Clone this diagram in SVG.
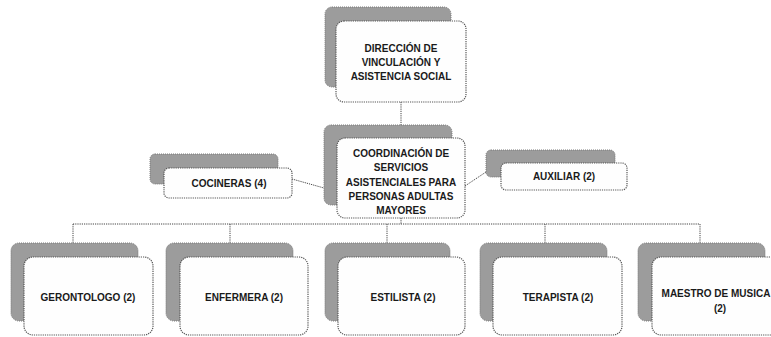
<svg xmlns="http://www.w3.org/2000/svg" width="771" height="337" viewBox="0 0 771 337">
<defs>
<style>
.sh{fill:#9c9c9c;stroke:#7a7a7a;stroke-width:1;stroke-dasharray:1 1}
.fr{fill:#fefefe;stroke:#555;stroke-width:1.2;stroke-dasharray:1.2 1}
.t{font-family:"Liberation Sans",Arial,sans-serif;font-weight:bold;font-size:10px;fill:#1a1a1a;text-anchor:middle}
.c{fill:none;stroke:#444;stroke-width:1;stroke-dasharray:1.2 1}
</style>
</defs>
<rect width="771" height="337" fill="#ffffff"/>
<g id="connectors">
<path class="c" d="M401 102V125M401 218V224M73 224H700M73 224V243M230 224V243M387 224V243M545 224V243M700 224V243"/>
<path class="c" d="M292 179L324 188"/>
<path class="c" d="M465 186L486 172"/>
</g>
<g id="direccion">
<rect class="sh" x="325" y="7" width="126" height="80" rx="7"/>
<rect class="fr" x="336" y="21" width="130" height="81" rx="8"/>
<text class="t" x="401" y="52">DIRECCIÓN DE</text>
<text class="t" x="401" y="66">VINCULACIÓN Y</text>
<text class="t" x="401" y="80" font-size="9.5">ASISTENCIA SOCIAL</text>
</g>
<g id="coordinacion">
<rect class="sh" x="324" y="125" width="128" height="80" rx="7"/>
<rect class="fr" x="337" y="138" width="128" height="80" rx="8"/>
<text class="t" x="401" y="157">COORDINACIÓN DE</text>
<text class="t" x="401" y="171">SERVICIOS</text>
<text class="t" x="401" y="186">ASISTENCIALES PARA</text>
<text class="t" x="401" y="200">PERSONAS ADULTAS</text>
<text class="t" x="401" y="214">MAYORES</text>
</g>
<g id="cocineras">
<rect class="sh" x="150" y="154" width="128" height="30" rx="5"/>
<rect class="fr" x="164" y="168" width="128" height="30" rx="5"/>
<text class="t" x="229" y="187">COCINERAS (4)</text>
</g>
<g id="auxiliar">
<rect class="sh" x="486" y="150" width="129" height="27" rx="5"/>
<rect class="fr" x="501" y="163" width="126" height="27" rx="5"/>
<text class="t" x="564" y="180">AUXILIAR (2)</text>
</g>
<g id="gerontologo">
<rect class="sh" x="11" y="243" width="127" height="78" rx="8"/>
<rect class="fr" x="24" y="257" width="129" height="78" rx="9"/>
<text class="t" x="88" y="301">GERONTOLOGO (2)</text>
</g>
<g id="enfermera">
<rect class="sh" x="166" y="243" width="127" height="78" rx="8"/>
<rect class="fr" x="180" y="257" width="128" height="78" rx="9"/>
<text class="t" x="244" y="301">ENFERMERA (2)</text>
</g>
<g id="estilista">
<rect class="sh" x="325" y="243" width="125" height="78" rx="8"/>
<rect class="fr" x="338" y="257" width="127" height="78" rx="9"/>
<text class="t" x="403" y="301">ESTILISTA (2)</text>
</g>
<g id="terapista">
<rect class="sh" x="480" y="243" width="127" height="78" rx="8"/>
<rect class="fr" x="493" y="257" width="129" height="78" rx="9"/>
<text class="t" x="558" y="301">TERAPISTA (2)</text>
</g>
<g id="maestro">
<rect class="sh" x="638" y="243" width="127" height="78" rx="8"/>
<rect class="fr" x="652" y="257" width="129" height="78" rx="9"/>
<text class="t" x="716" y="297">MAESTRO DE MUSICA</text>
<text class="t" x="720" y="312">(2)</text>
</g>
</svg>
